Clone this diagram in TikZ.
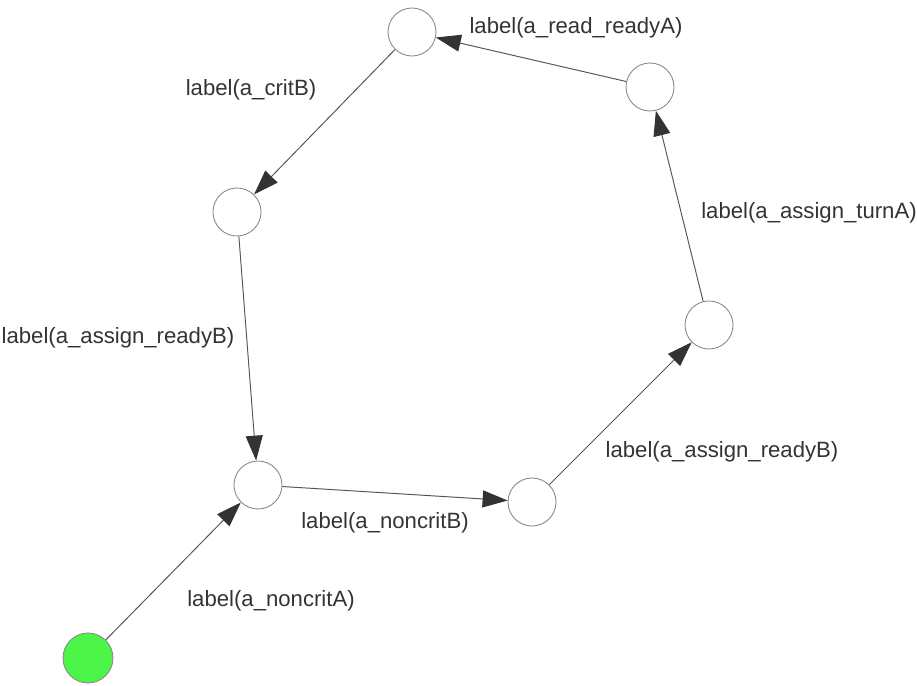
\documentclass[tikz,border=0pt]{standalone}
\usepackage{fontspec}
\setmainfont{Liberation Sans}
\usepackage{xcolor}
\usetikzlibrary{arrows.meta, positioning}
\definecolor{sGreen}{HTML}{4CF548}
\definecolor{sRing}{HTML}{8A8A8A}
\definecolor{sEdge}{HTML}{555555}
\definecolor{sText}{HTML}{333333}

\begin{document}
\begin{tikzpicture}[
  every node/.style={font=\fontsize{12.6}{15}\selectfont, color=sText},
  state/.style={circle, draw=sRing, fill=white, line width=0.5pt,
                minimum size=0.96cm, inner sep=0pt},
  start/.style={state, fill=sGreen, minimum size=1.0cm},
  trans/.style={draw=sEdge, line width=0.55pt,
                -{Triangle[length=0.5cm, width=0.34cm, color=sText]}}
]
\useasboundingbox (0,0) rectangle (18.34,13.7);

\node[start] (s0) at ( 1.76,  0.54) {};
\node[state] (s1) at ( 5.16,  4.00) {};
\node[state] (s2) at (10.64,  3.66) {};
\node[state] (s3) at (14.18,  7.20) {};
\node[state] (s4) at (13.00, 11.96) {};
\node[state] (s5) at ( 8.24, 13.06) {};
\node[state] (s6) at ( 4.74,  9.46) {};

\draw[trans] (s0) -- (s1);
\draw[trans] (s1) -- (s2);
\draw[trans] (s2) -- (s3);
\draw[trans] (s3) -- (s4);
\draw[trans] (s4) -- (s5);
\draw[trans] (s5) -- (s6);
\draw[trans] (s6) -- (s1);

\node (l0) at ( 5.42,  1.68) {label(a\_noncritA)};
\node (l1) at ( 7.70,  3.24) {label(a\_noncritB)};
\node (l2) at (14.44,  4.66) {label(a\_assign\_readyB)};
\node (l3) at (16.18,  9.44) {label(a\_assign\_turnA)};
\node (l4) at (11.52, 13.14) {label(a\_read\_readyA)};
\node (l5) at ( 5.02, 11.90) {label(a\_critB)};
\node (l6) at ( 2.36,  6.94) {label(a\_assign\_readyB)};
\end{tikzpicture}
\end{document}
